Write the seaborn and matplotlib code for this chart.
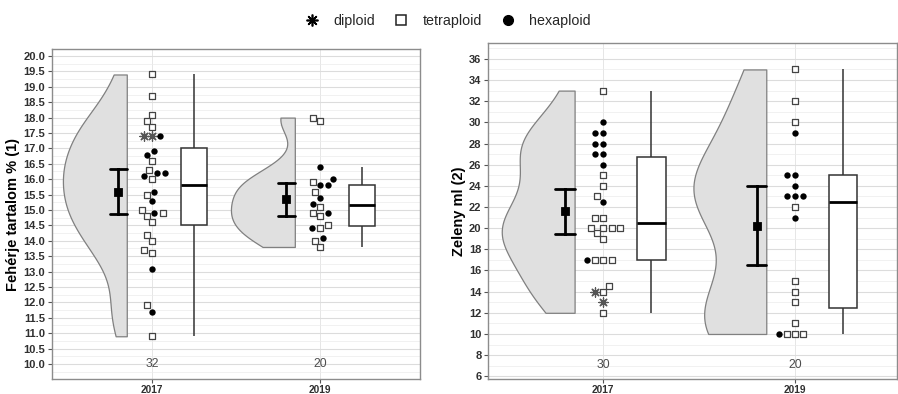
import numpy as np
import pandas as pd
import matplotlib
matplotlib.use("Agg")
import matplotlib.pyplot as plt
import seaborn as sns
from matplotlib.lines import Line2D
from matplotlib.ticker import MultipleLocator, FormatStrFormatter

sns.set_theme(style="white")
plt.rcParams["font.family"] = ["Liberation Sans", "DejaVu Sans"]

years = ["2017", "2019"]
ploidies = ["diploid", "tetraploid", "hexaploid"]

# Fehérje tartalom % (1)
prot_2017_diploid = [17.4, 17.4]
prot_2017_tetraploid = [19.4, 18.7, 18.1, 17.9, 17.7, 16.6, 16.3, 16.0, 15.5, 15.0,
                        14.9, 14.8, 14.6, 14.2, 14.0, 13.7, 13.6, 11.9, 10.9]
prot_2017_hexaploid = [17.4, 16.9, 16.8, 16.2, 16.2, 16.1, 15.6, 15.3, 14.9, 13.1, 11.7]
prot_2019_diploid = []
prot_2019_tetraploid = [18.0, 17.9, 15.9, 15.6, 15.1, 14.9, 14.8, 14.5, 14.4, 14.0, 13.8]
prot_2019_hexaploid = [16.4, 16.0, 15.8, 15.8, 15.4, 15.2, 14.9, 14.4, 14.1]

# Zeleny ml (2)
zel_2017_diploid = [14, 13]
zel_2017_tetraploid = [33, 25, 24, 23, 21, 21, 20, 20, 20, 20, 19.5, 19, 17, 17, 17,
                       14.5, 14, 12]
zel_2017_hexaploid = [30, 29, 29, 28, 28, 27, 27, 26, 22.5, 17]
zel_2019_diploid = []
zel_2019_tetraploid = [35, 32, 30, 22, 15, 14, 13, 11, 10, 10, 10]
zel_2019_hexaploid = [29, 25, 25, 24, 23, 23, 23, 21, 10]


def build(groups):
    rows = []
    for (yr, pl), vals in groups.items():
        for v in vals:
            rows.append({"year": yr, "ploidy": pl, "value": float(v)})
    return pd.DataFrame(rows)


prot = build({
    ("2017", "diploid"): prot_2017_diploid, ("2017", "tetraploid"): prot_2017_tetraploid,
    ("2017", "hexaploid"): prot_2017_hexaploid, ("2019", "diploid"): prot_2019_diploid,
    ("2019", "tetraploid"): prot_2019_tetraploid, ("2019", "hexaploid"): prot_2019_hexaploid,
})
zel = build({
    ("2017", "diploid"): zel_2017_diploid, ("2017", "tetraploid"): zel_2017_tetraploid,
    ("2017", "hexaploid"): zel_2017_hexaploid, ("2019", "diploid"): zel_2019_diploid,
    ("2019", "tetraploid"): zel_2019_tetraploid, ("2019", "hexaploid"): zel_2019_hexaploid,
})


def t975(dof):
    z = 1.959964
    g1 = (z**3 + z) / 4
    g2 = (5 * z**5 + 16 * z**3 + 3 * z) / 96
    g3 = (3 * z**7 + 19 * z**5 + 17 * z**3 - 15 * z) / 384
    return z + g1 / dof + g2 / dof**2 + g3 / dof**3


def tci(v):
    v = np.asarray(v, dtype=float)
    n = len(v)
    m = v.mean()
    h = t975(n - 1) * v.std(ddof=1) / np.sqrt(n)
    return m - h, m + h


STYLE = {
    "diploid": dict(marker=(8, 2, 0), s=44, color="#555555", linewidth=0.9),
    "tetraploid": dict(marker="s", s=21, facecolor="white", edgecolor="#444444", linewidth=0.9),
    "hexaploid": dict(marker="o", s=21, color="black", edgecolor="black", linewidth=0),
}

VIOLIN_W = 0.38      # max half-violin width (category units)
VIOLIN_EDGE = -0.15  # flat edge offset from category centre


def panel(fig, ax, df, ylim, xlim, major, fmt, nlab_y, ylabel):
    df = df.copy()
    df["pos"] = df["year"].map({y: i for i, y in enumerate(years)}).astype(float)

    # half violins (seaborn draws the split half across the whole width)
    for yr in years:
        g = df[df["year"] == yr]
        v = g["value"].to_numpy()
        sd = v.std(ddof=1)
        q75, q25 = np.percentile(v, [75, 25])
        adj = 0.9 * min(sd, (q75 - q25) / 1.34) / sd
        sns.violinplot(x=g["pos"] + VIOLIN_EDGE - VIOLIN_W / 2, y=g["value"],
                       native_scale=True, split=True, inner=None, cut=0,
                       density_norm="width", width=VIOLIN_W,
                       bw_method="scott", bw_adjust=adj, color="#E0E0E0",
                       linecolor="#808080", linewidth=0.9, ax=ax)

    # mean with 95% CI
    sns.pointplot(x=df["pos"] - 0.2, y=df["value"], native_scale=True, errorbar=tci,
                  capsize=0.1, linestyle="none", marker="s", markersize=4.5,
                  color="black", err_kws={"linewidth": 2.0}, ax=ax)

    # boxplot
    sns.boxplot(x=df["pos"] + 0.25, y=df["value"], native_scale=True, width=0.15,
                showfliers=False, showcaps=False, color="white", linecolor="#333333",
                linewidth=1.1, medianprops=dict(color="black", linewidth=2.0), ax=ax)

    ax.set_xlim(*xlim)
    ax.set_ylim(*ylim)

    # swarm positions computed by seaborn, then redrawn with ploidy markers
    for yr in years:
        g = df[df["year"] == yr]
        before = list(ax.collections)
        sns.swarmplot(x=g["pos"], y=g["value"], native_scale=True, size=5.6,
                      color="black", ax=ax)
        new = [c for c in ax.collections if c not in before]
        fig.canvas.draw()
        offs = np.vstack([c.get_offsets() for c in new])
        for c in new:
            c.remove()
        o_sort = np.argsort(offs[:, 1], kind="stable")
        d_sort = np.argsort(g["value"].to_numpy(), kind="stable")
        sx = np.empty(len(g))
        sx[d_sort] = offs[o_sort, 0]
        g = g.assign(sx=sx)
        for pl in ploidies:
            sub = g[g["ploidy"] == pl]
            if len(sub):
                sns.scatterplot(x=sub["sx"], y=sub["value"], ax=ax, legend=False,
                                zorder=3, **STYLE[pl])
        ax.text(g["pos"].iloc[0], nlab_y, str(len(g)), ha="center", va="center",
                fontsize=8.8, color="#4d4d4d")

    ax.set_xlim(*xlim)
    ax.set_ylim(*ylim)
    ax.set_xticks([0, 1])
    ax.set_xticklabels(years)
    ax.yaxis.set_major_locator(MultipleLocator(major))
    ax.yaxis.set_minor_locator(MultipleLocator(major / 2))
    ax.yaxis.set_major_formatter(FormatStrFormatter(fmt))
    ax.set_axisbelow(True)
    ax.grid(which="major", axis="y", color="#DCDCDC", linewidth=0.8)
    ax.grid(which="minor", axis="y", color="#EBEBEB", linewidth=0.5)
    ax.grid(which="major", axis="x", color="#E6E6E6", linewidth=0.7)
    ax.tick_params(which="minor", length=0)
    ax.tick_params(which="major", length=3, width=0.8, color="#555555",
                   labelcolor="#303030", left=True, bottom=True)
    ax.tick_params(axis="y", labelsize=8, pad=2)
    ax.tick_params(axis="x", labelsize=7.3, pad=1)
    for lab in ax.get_xticklabels() + ax.get_yticklabels():
        lab.set_fontweight("bold")
    for sp in ax.spines.values():
        sp.set_color("#8c8c8c")
        sp.set_linewidth(1.0)
    ax.set_xlabel("")
    ax.set_ylabel(ylabel, fontsize=10.5, fontweight="bold", color="black", labelpad=2)


fig = plt.figure(figsize=(8.98, 3.94), dpi=100)
ax1 = fig.add_axes([0.0579, 0.0381, 0.4098, 0.8368])
ax2 = fig.add_axes([0.5438, 0.0381, 0.4551, 0.8520])

panel(fig, ax1, prot, (9.513, 20.218), (-0.595, 1.595), 0.5, "%.1f", 10.0,
      "Fehérje tartalom % (1)")
panel(fig, ax2, zel, (5.745, 37.47), (-0.6, 1.532), 2, "%d", 7.05, "Zeleny ml (2)")

handles = [
    Line2D([], [], linestyle="none", marker=(8, 2, 0), markersize=8.5, color="black",
           markeredgewidth=1.2),
    Line2D([], [], linestyle="none", marker="s", markersize=7, markerfacecolor="white",
           markeredgecolor="#222222", markeredgewidth=1.1),
    Line2D([], [], linestyle="none", marker="o", markersize=7, color="black"),
]
fig.legend(handles, ploidies, loc="center", bbox_to_anchor=(0.499, 0.947), ncol=3,
           frameon=False, fontsize=10.3, handlelength=1.0, handletextpad=1.0,
           columnspacing=1.3)

fig.savefig("out.png", dpi=100)
